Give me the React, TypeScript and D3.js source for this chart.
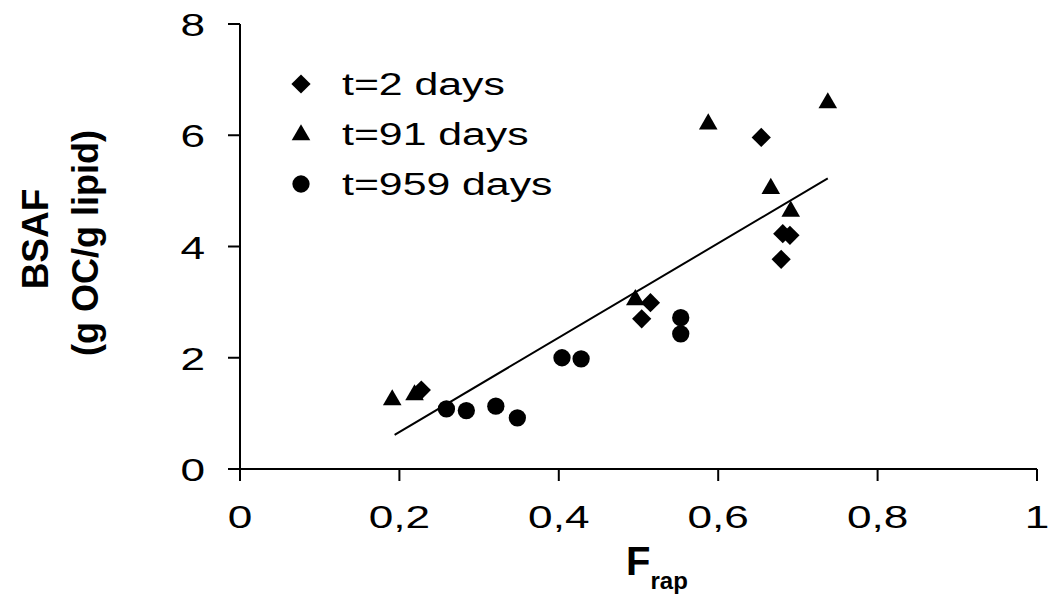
import React from "react";
import * as d3 from "d3";

// ---- data ----
const series2X = [0.2275, 0.504, 0.515, 0.654, 0.679, 0.681, 0.69];
const series2Y = [1.42, 2.7, 2.99, 5.96, 3.77, 4.23, 4.2];

const series91X = [0.191, 0.219, 0.496, 0.5875, 0.666, 0.691, 0.7375];
const series91Y = [1.26, 1.35, 3.06, 6.22, 5.06, 4.65, 6.6];

const series959X = [0.259, 0.284, 0.321, 0.348, 0.404, 0.428, 0.553, 0.553];
const series959Y = [1.08, 1.05, 1.13, 0.92, 2.0, 1.98, 2.72, 2.43];

const fitSlope = 8.48;
const fitIntercept = -1.03;
const fitRange = [0.194, 0.7375];

const xTicks = [0, 0.2, 0.4, 0.6, 0.8, 1];
const xTickLabels = ["0", "0,2", "0,4", "0,6", "0,8", "1"];
const yTicks = [0, 2, 4, 6, 8];
const yTickLabels = ["0", "2", "4", "6", "8"];

const legendLabels = ["t=2 days", "t=91 days", "t=959 days"];

const FONT = "'Liberation Sans', Arial, Helvetica, sans-serif";
const SX = 1.38;

export default function App() {
  const W = 1050, H = 605;
  const x = d3.scaleLinear().domain([0, 1]).range([240, 1037]);
  const y = d3.scaleLinear().domain([0, 8]).range([469, 24]);

  const diamond = d3.symbol().type(d3.symbolSquare).size(185)()!;
  const triangle = d3.symbol().type(d3.symbolTriangle).size(150)()!;
  const circle = d3.symbol().type(d3.symbolCircle).size(235)()!;

  const markers = [
    (cx: number, cy: number, k: string) => (
      <path key={k} d={diamond} transform={`translate(${cx},${cy}) rotate(45)`} fill="#000" />
    ),
    (cx: number, cy: number, k: string) => (
      <path key={k} d={triangle} transform={`translate(${cx},${cy + 1})`} fill="#000" />
    ),
    (cx: number, cy: number, k: string) => (
      <path key={k} d={circle} transform={`translate(${cx},${cy})`} fill="#000" />
    ),
  ];

  const allSeries = [
    [series2X, series2Y],
    [series91X, series91Y],
    [series959X, series959Y],
  ];

  const line = d3
    .line<number>()
    .x((d) => x(d))
    .y((d) => y(fitSlope * d + fitIntercept));

  return (
    <svg
      width={W}
      height={H}
      style={{ position: "absolute", left: 0, top: 0, background: "#fff" }}
      fontFamily={FONT}
    >
      <rect width={W} height={H} fill="#fff" />
      {/* axes */}
      <line x1={x(0)} x2={x(0)} y1={y(8)} y2={y(0)} stroke="#000" strokeWidth={2} />
      <line x1={x(0)} x2={x(1)} y1={y(0)} y2={y(0)} stroke="#000" strokeWidth={2} />
      {xTicks.map((t, i) => (
        <g key={"xt" + i}>
          <line x1={x(t)} x2={x(t)} y1={y(0)} y2={y(0) + 12} stroke="#000" strokeWidth={2} />
          <text
            transform={`translate(${x(t)},${y(0) + 59}) scale(${SX},1)`}
            fontSize={32}
            textAnchor="middle"
            fill="#000"
          >
            {xTickLabels[i]}
          </text>
        </g>
      ))}
      {yTicks.map((t, i) => (
        <g key={"yt" + i}>
          <line x1={x(0) - 12} x2={x(0)} y1={y(t)} y2={y(t)} stroke="#000" strokeWidth={2} />
          <text
            transform={`translate(${x(0) - 35},${y(t) + 12}) scale(${SX},1)`}
            fontSize={32}
            textAnchor="end"
            fill="#000"
          >
            {yTickLabels[i]}
          </text>
        </g>
      ))}
      {/* axis titles */}
      <text
        transform={`translate(48,${239}) rotate(-90)`}
        fontSize={37}
        fontWeight="bold"
        textAnchor="middle"
        fill="#000"
      >
        BSAF
      </text>
      <text
        transform={`translate(98,${243}) rotate(-90)`}
        fontSize={36}
        fontWeight="bold"
        textAnchor="middle"
        fill="#000"
      >
        (g OC/g lipid)
      </text>
      <text x={626} y={575} fontSize={40} fontWeight="bold" fill="#000">
        F
        <tspan fontSize={24} dy={14}>rap</tspan>
      </text>
      {/* regression line */}
      <path d={line(fitRange)!} fill="none" stroke="#000" strokeWidth={2} />
      {/* points */}
      {allSeries.map(([xs, ys], s) =>
        xs.map((v, i) => markers[s](x(v), y(ys[i]), `p${s}-${i}`))
      )}
      {/* legend */}
      {legendLabels.map((lab, i) => (
        <g key={"lg" + i}>
          {markers[i](301, 84 + i * 50, "lm" + i)}
          <text
            transform={`translate(342,${95 + i * 50}) scale(${SX},1)`}
            fontSize={31}
            fill="#000"
          >
            {lab}
          </text>
        </g>
      ))}
    </svg>
  );
}
